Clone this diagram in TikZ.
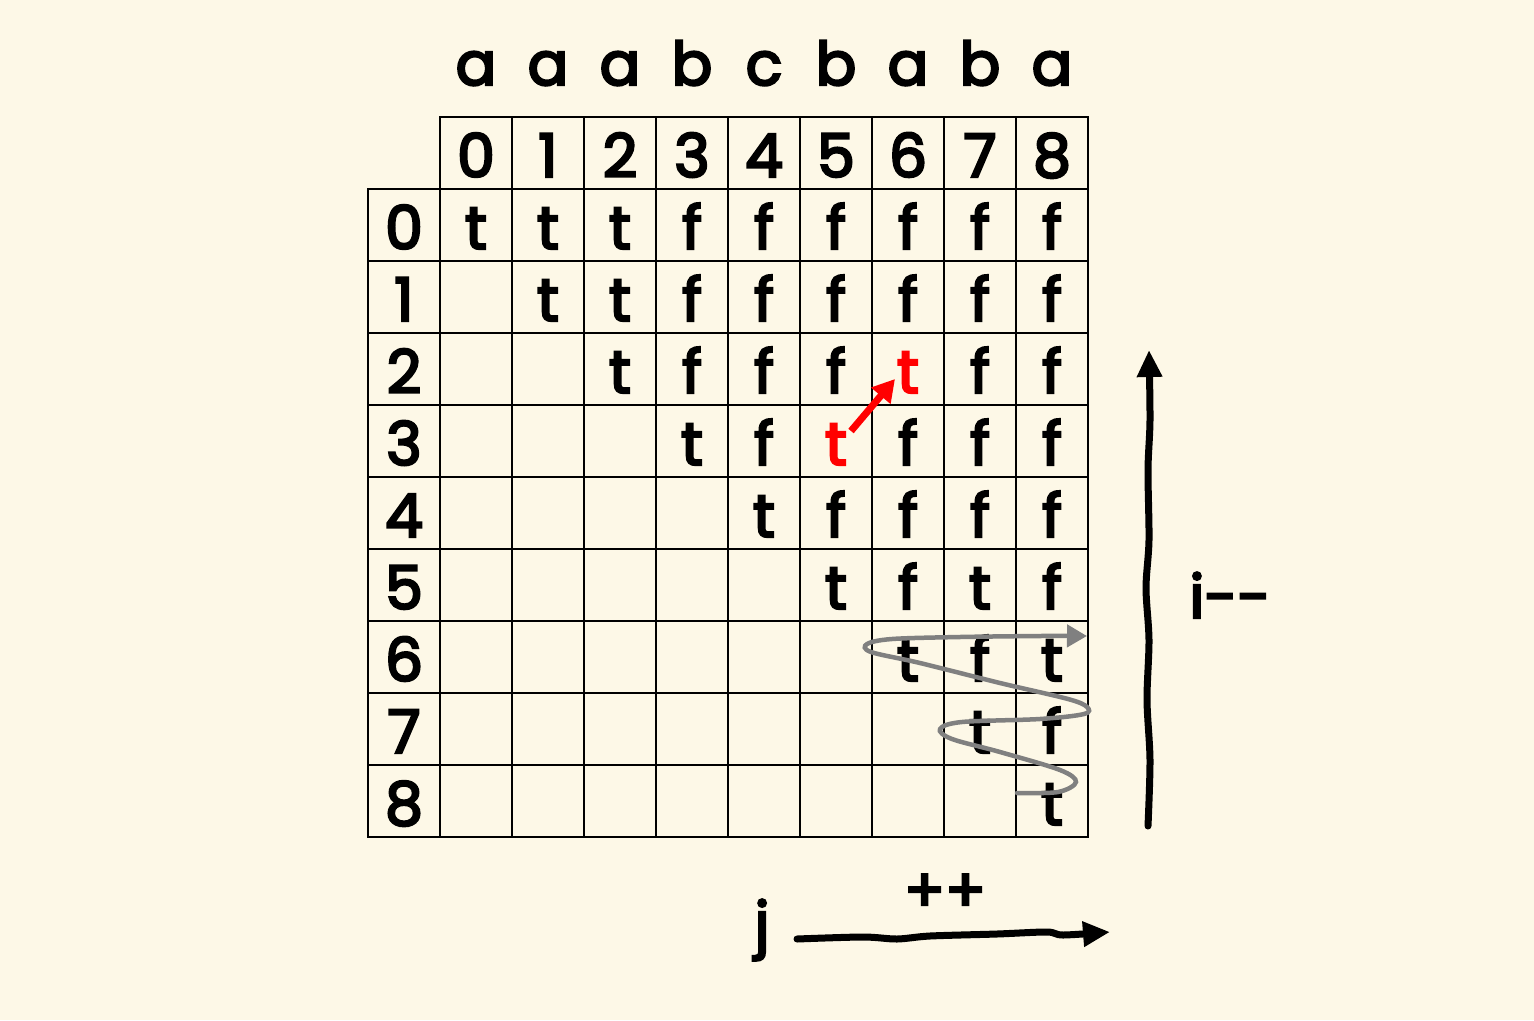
\documentclass[tikz,border=0pt]{standalone}
\usepackage{fontspec}
\setmainfont{Poppins}
\newfontfamily\medfont{Poppins}[FakeBold=4]
\usetikzlibrary{arrows.meta}
\definecolor{bg}{RGB}{253,248,231}
\definecolor{spiralgray}{RGB}{128,128,128}
\definecolor{hl}{RGB}{255,0,0}
\def\cvE{e}\def\cvR{r}
\newcommand\cv[1]{\edef\cvtmp{#1}\ifx\cvtmp\cvE\else\ifx\cvtmp\cvR\textcolor{hl}{t}\else\cvtmp\fi\fi}
\begin{document}
\begin{tikzpicture}[x=1pt,y=-1pt,
  cell/.style={draw, line width=2.8pt, minimum width=72pt, minimum height=72pt,
    inner sep=0pt, text height=48pt, text depth=0pt, font=\fontsize{60}{60}\medfont},
  lbl/.style={font=\fontsize{60}{60}\medfont, inner sep=0pt},
  bigarrow/.style={line width=7pt, line cap=round, -{Triangle[length=27pt,width=24pt]}},
  spiralarrow/.style={spiralgray, line width=4.5pt, line cap=round, -{Triangle[length=20pt,width=22pt]}},
  redarrow/.style={hl, line width=7pt, -{Triangle[length=22pt,width=24pt]}}
]
\fill[bg] (0,0) rectangle (1534,1020);
\useasboundingbox (0,0) rectangle (1534,1020);

% column letters and column indices
\foreach \j/\ch in {0/a,1/a,2/a,3/b,4/c,5/b,6/a,7/b,8/a}{
  \node[lbl, anchor=base] (s\j) at ({476+72*\j},85) {\ch};
  \node[cell] (h\j) at ({476+72*\j},153) {\j};
}
% row indices
\foreach \i in {0,...,8}{
  \node[cell] (r\i) at (404,{225+72*\i}) {\i};
}
% table cells
\foreach \i/\row in {0/{t,t,t,f,f,f,f,f,f},
                     1/{e,t,t,f,f,f,f,f,f},
                     2/{e,e,t,f,f,f,r,f,f},
                     3/{e,e,e,t,f,r,f,f,f},
                     4/{e,e,e,e,t,f,f,f,f},
                     5/{e,e,e,e,e,t,f,t,f},
                     6/{e,e,e,e,e,e,t,f,t},
                     7/{e,e,e,e,e,e,e,t,f},
                     8/{e,e,e,e,e,e,e,e,t}}{
  \foreach \v [count=\k from 0] in \row {
    \node[cell] (c\i-\k) at ({476+72*\k},{225+72*\i}) {\cv{\v}};
  }
}

% red arrow between the two red t's
\coordinate (ra) at (851,431);
\coordinate (rb) at (895,379);
\draw[redarrow] (ra) -- (rb);

% grey spiral
\draw[spiralarrow] plot[smooth, tension=0.55] coordinates {
  (1017,793) (1058,792) (1076,782) (1060,770) (1000,752) (952,739)
  (940,729) (962,722) (1040,719) (1084,714) (1087,707) (1068,699)
  (1000,683) (920,663) (871,652) (867,644) (892,639) (960,637) (1040,636) (1087,636)};

% i-- arrow
\coordinate (ia) at (1148,826);
\coordinate (ib) at (1149,350);
\draw[bigarrow] plot[smooth] coordinates {
  (1148,826) (1150,760) (1147,700) (1149,640) (1146,588) (1149,540)
  (1148,470) (1150,420) (1149,350)};
\node[lbl, anchor=base] (ilbl) at (1230,618) {i-{}-};

% j++ arrow
\draw[bigarrow] plot[smooth] coordinates {
  (797,939) (863,937) (897,939) (930,936) (997,934) (1047,932) (1063,935) (1110,932)};
\node[lbl, anchor=base] (jlbl) at (762,945) {j};
\node[lbl] (pp) at (945,893) {++};
\end{tikzpicture}
\end{document}
